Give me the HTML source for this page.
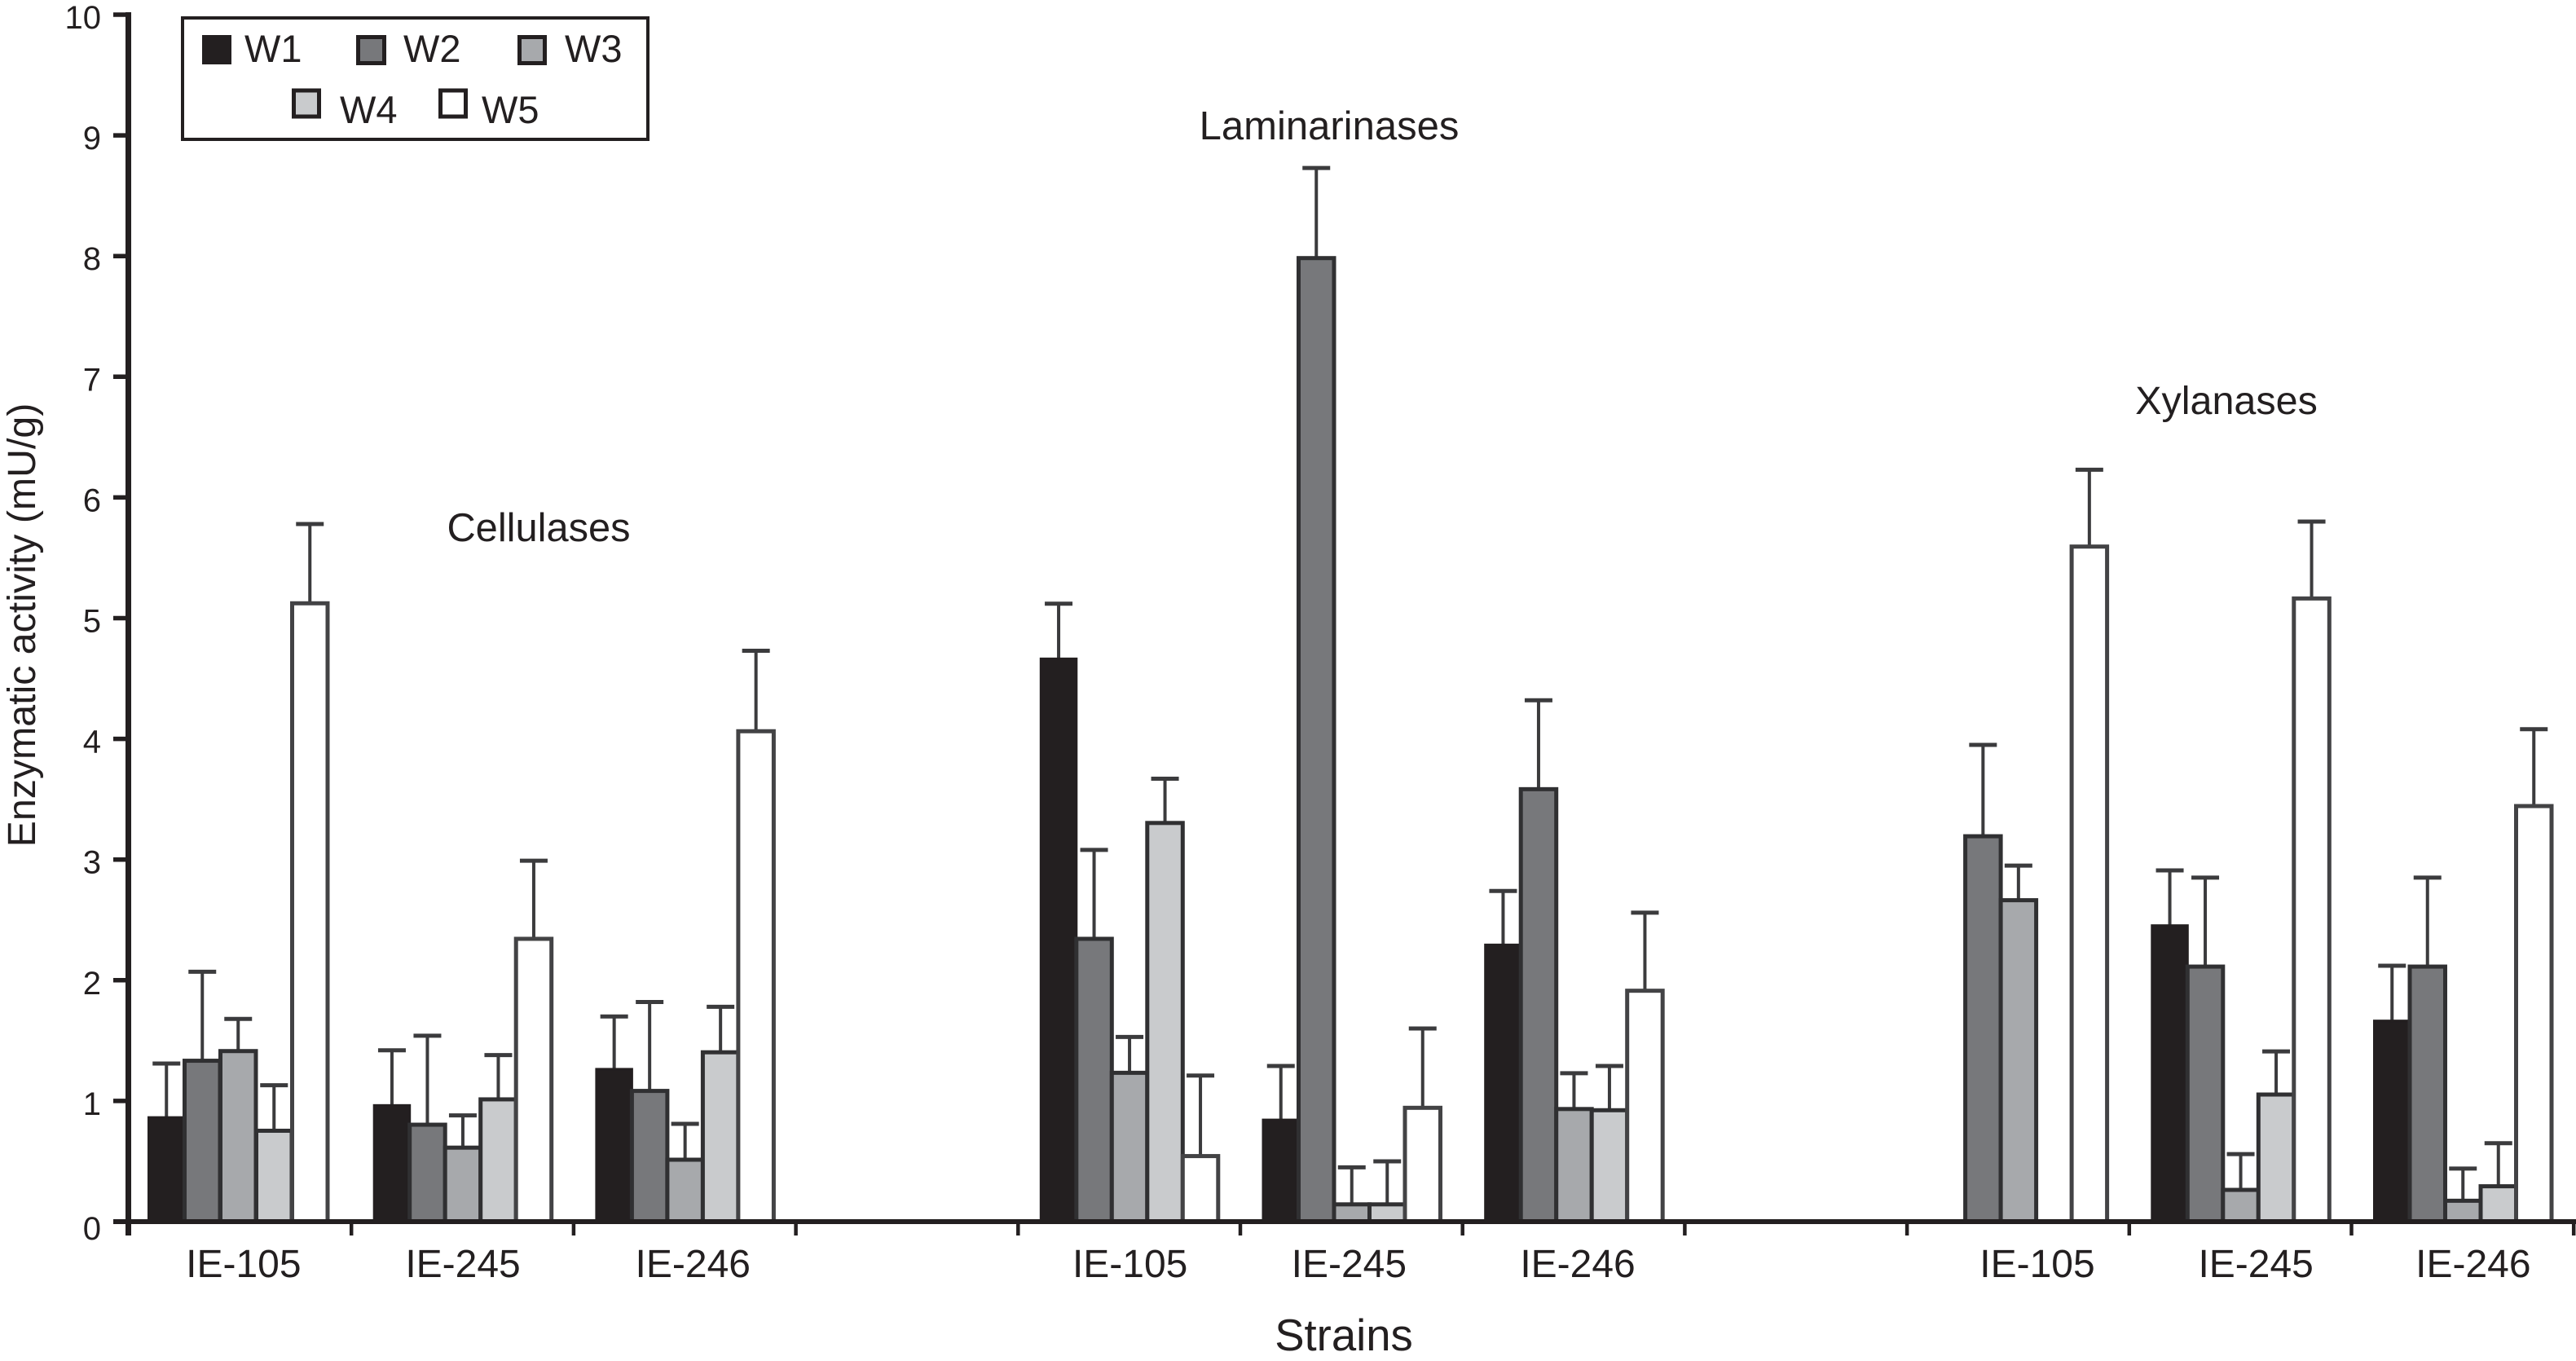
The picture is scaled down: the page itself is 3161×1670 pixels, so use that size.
<!DOCTYPE html>
<html lang="en">
<head>
<meta charset="utf-8">
<title>Enzymatic activity by strain</title>
<style>
html,body{margin:0;padding:0;background:#fff;}
svg{display:block;}
text{font-family:"Liberation Sans",Arial,sans-serif;fill:#231f20;}
</style>
</head>
<body>
<svg id="chart" xmlns="http://www.w3.org/2000/svg" width="3161" height="1670" viewBox="0 0 3161 1670">
  <rect x="0" y="0" width="3161" height="1670" fill="#fff"/>
  <g id="bars"></g>
  <g id="axes"></g>
  <text transform="translate(43,767) rotate(-90)" text-anchor="middle" font-size="48.300">Enzymatic activity (mU/g)</text>
  <text x="1649" y="1657" text-anchor="middle" font-size="54.500">Strains</text>
  <text x="661" y="664" text-anchor="middle" font-size="48.800">Cellulases</text>
  <text x="1631" y="171" text-anchor="middle" font-size="49">Laminarinases</text>
  <text x="2732" y="508" text-anchor="middle" font-size="48.500">Xylanases</text>
  <g>
    <rect x="224" y="22" width="571" height="149" fill="#fff" stroke="#231f20" stroke-width="4"/>
    <g>
      <rect x="248" y="43" width="36" height="36" fill="#231f20"/>
      <text x="300" y="76" font-size="47">W1</text>
    </g>
    <g>
      <rect x="439.500" y="45.500" width="32" height="32" fill="#77787b" stroke="#231f20" stroke-width="5"/>
      <text x="495" y="76" font-size="47">W2</text>
    </g>
    <g>
      <rect x="637.500" y="45.500" width="31" height="32" fill="#a7a9ac" stroke="#231f20" stroke-width="5"/>
      <text x="693" y="76" font-size="47">W3</text>
    </g>
    <g>
      <rect x="360.500" y="111" width="31" height="32" fill="#c9cbcd" stroke="#231f20" stroke-width="5"/>
      <text x="417" y="151" font-size="47">W4</text>
    </g>
    <g>
      <rect x="540.500" y="111" width="31" height="32" fill="#fff" stroke="#231f20" stroke-width="5"/>
      <text x="591" y="151" font-size="47">W5</text>
    </g>
  </g>
</svg>
<script>
// Chart data (null = no bar drawn; the blank slots separate the three enzyme panels)
const categories = ['IE-105','IE-245','IE-246','','IE-105','IE-245','IE-246','','IE-105','IE-245','IE-246'];
const seriesNames = ['W1','W2','W3','W4','W5'];
const w1Values = [0.87,0.97,1.27,null,4.67,0.85,2.30,null,null,2.46,1.67];
const w2Values = [1.35,0.82,1.10,null,2.36,8.00,3.60,null,3.21,2.13,2.13];
const w3Values = [1.43,0.63,0.53,null,1.25,0.16,0.95,null,2.68,0.28,0.19];
const w4Values = [0.77,1.03,1.42,null,3.32,0.16,0.94,null,null,1.07,0.31];
const w5Values = [5.14,2.36,4.08,null,0.56,0.96,1.93,null,5.61,5.18,3.46];
const w1Upper = [1.31,1.42,1.70,null,5.12,1.29,2.74,null,null,2.91,2.12];
const w2Upper = [2.07,1.54,1.82,null,3.08,8.73,4.32,null,3.95,2.85,2.85];
const w3Upper = [1.68,0.88,0.81,null,1.53,0.45,1.23,null,2.95,0.56,0.44];
const w4Upper = [1.13,1.38,1.78,null,3.67,0.50,1.29,null,null,1.41,0.65];
const w5Upper = [5.78,2.99,4.73,null,1.21,1.60,2.56,null,6.23,5.80,4.08];
const yTickLabels = [0,1,2,3,4,5,6,7,8,9,10];

const seriesValues = [w1Values,w2Values,w3Values,w4Values,w5Values];
const seriesUpper = [w1Upper,w2Upper,w3Upper,w4Upper,w5Upper];
const seriesFill = ['#231f20','#77787b','#a7a9ac','#c9cbcd','#ffffff'];
const seriesStroke = ['#231f20','#303032','#303032','#303032','#434345'];

const SVG_NS = 'http://www.w3.org/2000/svg';
const barsLayer = document.getElementById('bars');
const axesLayer = document.getElementById('axes');

const AXIS_X = 157.5, BASE_Y = 1499, UNIT = 148.1, CAT_W = 272.7, BAR_W = 43.5, BAR_INSET = 28;
const yScale = v => BASE_Y - v * UNIT;
const tickX = i => AXIS_X + 1 + i * CAT_W;
const barX = (i, s) => tickX(i) + (i === 0 ? BAR_INSET - 4 : BAR_INSET) + s * (i === 0 ? BAR_W + 0.5 : BAR_W);
const labelX = i => {
  const hand = {0:4, 1:0.5, 2:10, 4:1, 5:-3, 6:5, 8:23.5, 9:19, 10:13};
  return tickX(i) + CAT_W / 2 + (hand[i] || 0);
};

function make(tag, attrs, parent) {
  const el = document.createElementNS(SVG_NS, tag);
  for (const k in attrs) el.setAttribute(k, attrs[k]);
  parent.appendChild(el);
  return el;
}

categories.forEach((cat, i) => {
  seriesNames.forEach((name, s) => {
    const v = seriesValues[s][i];
    if (v === null) return;
    const upper = seriesUpper[s][i];
    const x = barX(i, s);
    const cx = x + BAR_W / 2;
    const top = yScale(v) + (s === 0 ? 1 : 2.5);
    const errTop = yScale(upper);

    const stem = make('line', {x1:cx, x2:cx, y1:top, y2:errTop, stroke:'#3b3b3d', 'stroke-width':4}, barsLayer);
    
    

    const cap = make('line', {x1:cx - 17, x2:cx + 17, y1:errTop, y2:errTop, stroke:'#3b3b3d', 'stroke-width':5}, barsLayer);
    
    

    const bar = make('rect', {x:x, y:top, width:BAR_W, height:BASE_Y - top, fill:seriesFill[s], stroke:seriesStroke[s], 'stroke-width':s === 0 ? 3 : 5}, barsLayer);
    
    
  });
});

const yAxis = make('line', {x1:AXIS_X, x2:AXIS_X, y1:15, y2:1516, stroke:'#231f20', 'stroke-width':7}, axesLayer);



const xAxis = make('line', {x1:139, x2:3161, y1:BASE_Y, y2:BASE_Y, stroke:'#231f20', 'stroke-width':6}, axesLayer);



yTickLabels.forEach(v => {
  const y = yScale(v);
  const tick = make('line', {x1:139, x2:AXIS_X, y1:y, y2:y, stroke:'#231f20', 'stroke-width':5.500}, axesLayer);
  
  
  const label = make('text', {x:124, y:y + 17 + (v === 0 ? 5 : 0), 'text-anchor':'end', 'font-size':40}, axesLayer);
  label.textContent = String(v);
  
  
});

for (let i = 0; i <= categories.length; i++) {
  const x = Math.min(tickX(i), 3158.500);
  const tick = make('line', {x1:x, x2:x, y1:BASE_Y, y2:1516, stroke:'#231f20', 'stroke-width':4.500}, axesLayer);
  
  
}

categories.forEach((cat, i) => {
  if (!cat) return;
  const label = make('text', {x:labelX(i), y:1567, 'text-anchor':'middle', 'font-size':48}, axesLayer);
  label.textContent = cat;
  
  
});
</script>
</body>
</html>
